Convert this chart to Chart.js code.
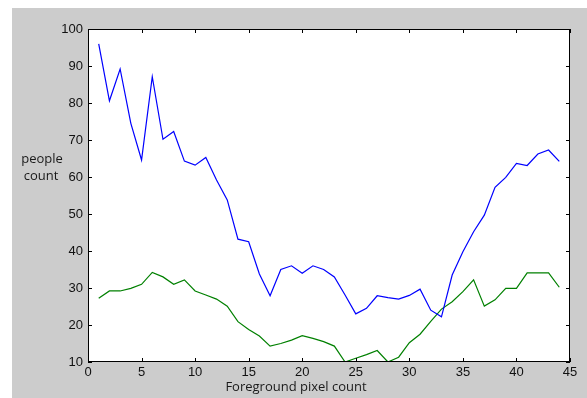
<!DOCTYPE html>
<html>
<head>
<meta charset="utf-8">
<script src="https://cdn.jsdelivr.net/npm/chart.js@4.4.1/dist/chart.umd.min.js"></script>
<style>
  html, body { margin: 0; padding: 0; background: #fff; }
  #caja { width: 587px; height: 398px; position: relative; }
</style>
</head>
<body>
<div id="caja"><canvas id="grafica"></canvas></div>
<script>
const pixelesFondo = [1, 2, 3, 4, 5, 6, 7, 8, 9, 10, 11, 12, 13, 14, 15, 16, 17, 18, 19, 20, 21, 22,
  23, 24, 25, 26, 27, 28, 29, 30, 31, 32, 33, 34, 35, 36, 37, 38, 39, 40, 41, 42, 43, 44];
const serieAzul = [96, 80.6, 89.2, 74.5, 64.6, 87.1, 70.2, 72.3, 64.3, 63.2, 65.3, 59.2, 53.8, 43.2, 42.5,
  33.8, 27.9, 35, 36, 34, 36, 35, 33, 28.1, 23, 24.5, 27.9, 27.4, 27, 28, 29.7, 24, 22.2,
  33.5, 39.8, 45.2, 49.7, 57.2, 59.9, 63.7, 63.1, 66.2, 67.3, 64.2];
const serieVerde = [27.2, 29.2, 29.2, 29.9, 31, 34.2, 33, 31, 32.2, 29.2, 28.1, 27, 25.1, 20.9, 18.8,
  17, 14.3, 15, 15.9, 17.1, 16.4, 15.5, 14.3, 10, 11, 12, 13.1, 10, 11.3, 15.2, 17.5, 21,
  24.3, 26.3, 29, 32.2, 25.1, 26.8, 29.9, 29.9, 34.1, 34.1, 34.1, 30.2];
const ticksX = [0, 5, 10, 15, 20, 25, 30, 35, 40, 45];
const ticksY = [10, 20, 30, 40, 50, 60, 70, 80, 90, 100];
const tituloX = "Foreground pixel count";
const tituloY = ["people", "count"];

const puntos = serie => pixelesFondo.map((x, i) => ({ x: x, y: serie[i] }));

const marco = {
  id: "marco",
  beforeDraw(chart) {
    const ctx = chart.ctx;
    const a = chart.chartArea;
    ctx.save();
    ctx.fillStyle = "#ffffff";
    ctx.fillRect(0, 0, chart.width, chart.height);
    ctx.fillStyle = "#cccccc";
    ctx.fillRect(12, 8, chart.width - 12, chart.height - 8);
    ctx.fillStyle = "#ffffff";
    ctx.fillRect(a.left, a.top, a.right - a.left, a.bottom - a.top);
    ctx.restore();
  },
  afterDraw(chart) {
    const ctx = chart.ctx;
    const a = chart.chartArea;
    const sx = chart.scales.x;
    const sy = chart.scales.y;
    ctx.save();
    ctx.strokeStyle = "#000000";
    ctx.lineWidth = 1;
    ctx.strokeRect(a.left + 0.5, a.top + 0.5, a.right - a.left - 1, a.bottom - a.top - 1);
    ctx.beginPath();
    ticksX.forEach(v => {
      const px = Math.round(sx.getPixelForValue(v)) + 0.5;
      ctx.moveTo(px, a.bottom); ctx.lineTo(px, a.bottom - 4);
      ctx.moveTo(px, a.top); ctx.lineTo(px, a.top + 4);
    });
    ticksY.forEach(v => {
      const py = Math.round(sy.getPixelForValue(v)) + 0.5;
      ctx.moveTo(a.left, py); ctx.lineTo(a.left + 4, py);
      ctx.moveTo(a.right, py); ctx.lineTo(a.right - 4, py);
    });
    ctx.stroke();

    // titulos de los ejes
    ctx.fillStyle = "#1a1a1a";
    ctx.font = "13px 'Open Sans'";
    ctx.textAlign = "center";
    ctx.textBaseline = "middle";
    ctx.fillText(tituloX, 296, 387);
    ctx.fillText(tituloY[0], 42, 159);
    ctx.fillText(tituloY[1], 41, 176);
    ctx.restore();
  }
};

new Chart(document.getElementById("grafica"), {
  type: "line",
  data: {
    datasets: [
      { data: puntos(serieAzul), borderColor: "#0000ff", borderWidth: 1.2, pointRadius: 0, tension: 0, fill: false },
      { data: puntos(serieVerde), borderColor: "#008000", borderWidth: 1.2, pointRadius: 0, tension: 0, fill: false }
    ]
  },
  options: {
    responsive: true,
    maintainAspectRatio: false,
    animation: false,
    layout: { padding: { left: 0, top: 29, right: 17, bottom: 0 } },
    plugins: { legend: { display: false }, tooltip: { enabled: false } },
    scales: {
      x: {
        type: "linear",
        min: 0,
        max: 45,
        afterFit: s => { s.height = 36; },
        afterBuildTicks: s => { s.ticks = ticksX.map(v => ({ value: v })); },
        grid: { display: false, drawTicks: false },
        border: { display: false },
        ticks: { padding: 3, color: "#111111", font: { family: "'Liberation Sans', Arial", size: 13 } }
      },
      y: {
        type: "linear",
        min: 10,
        max: 100,
        afterFit: s => { s.width = 88; },
        afterBuildTicks: s => { s.ticks = ticksY.map(v => ({ value: v })); },
        grid: { display: false, drawTicks: false },
        border: { display: false },
        ticks: { padding: 5, color: "#111111", font: { family: "'Liberation Sans', Arial", size: 13 } }
      }
    }
  },
  plugins: [marco]
});
</script>
</body>
</html>
